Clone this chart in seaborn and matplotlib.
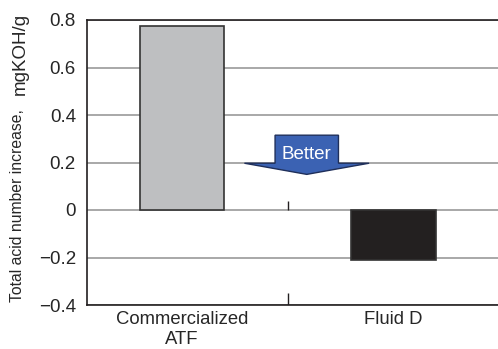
import matplotlib
matplotlib.use("Agg")
import matplotlib.pyplot as plt
import seaborn as sns
import pandas as pd
from matplotlib.patches import Polygon

categories = ["Commercialized\nATF", "Fluid D"]
values = [0.775, -0.21]
bar_colors = ["#bebfc1", "#231f20"]
y_ticks = [-0.4, -0.2, 0, 0.2, 0.4, 0.6, 0.8]
y_tick_labels = ["\u22120.4", "\u22120.2", "0", "0.2", "0.4", "0.6", "0.8"]

sns.set_style("white")
plt.rcParams["font.family"] = ["Liberation Sans", "DejaVu Sans"]

df = pd.DataFrame({"fluid": categories, "tan": values})

fig = plt.figure(figsize=(4.98, 3.49), dpi=100)
ax = fig.add_axes([87 / 498, 44 / 349, 411 / 498, 285 / 349])

for y in y_ticks:
    ax.axhline(y, color="#999999", lw=1.2, zorder=0)

sns.barplot(data=df, x="fluid", y="tan", hue="fluid", palette=bar_colors,
            width=0.4, edgecolor="#333333", linewidth=1.2, legend=False,
            ax=ax, zorder=2)

ax.set_xlim(-0.45, 1.495)
ax.set_ylim(-0.4, 0.8)
ax.set_yticks(y_ticks)
ax.set_yticklabels(y_tick_labels, fontsize=13.5)
ax.tick_params(axis="y", length=0, pad=8)
ax.tick_params(axis="x", length=0, labelsize=13.3, pad=4)
for lbl in ax.get_xticklabels():
    lbl.set_linespacing(1.3)
ax.set_xlabel("")
ax.set_ylabel("")

for s in ["top", "left", "bottom"]:
    ax.spines[s].set_color("#231f20")
    ax.spines[s].set_linewidth(1.2)
ax.spines["right"].set_visible(False)

# small separator ticks between categories
ax.vlines(0.5, 0, 0.04, color="#231f20", lw=1)
ax.vlines(0.5, -0.4, -0.35, color="#231f20", lw=1)

# "Better" arrow
blue = "#3b62b3"
arrow = Polygon([(0.44, 0.315), (0.74, 0.315), (0.74, 0.197), (0.885, 0.197),
                 (0.59, 0.15), (0.295, 0.197), (0.44, 0.197)],
                closed=True, facecolor=blue, edgecolor="#1f2f5a", lw=1, zorder=3)
ax.add_patch(arrow)
ax.text(0.59, 0.235, "Better", color="white", fontsize=13.5,
        ha="center", va="center", zorder=4)

fig.text(0.036, 1 - 302 / 349, "Total acid number increase,", rotation=90,
         fontsize=11.3, ha="center", va="bottom")
fig.text(0.04, 1 - 13 / 349, "mgKOH/g", rotation=90, fontsize=13.5,
         ha="center", va="top")

fig.savefig("out.png", dpi=100)
